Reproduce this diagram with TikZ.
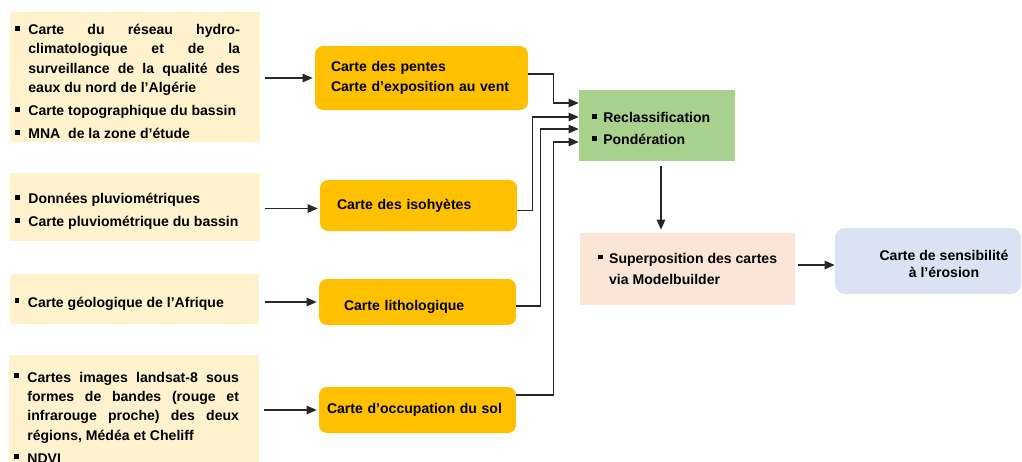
\documentclass[tikz,border=0pt]{standalone}
\usepackage{fontspec}
\setmainfont{Liberation Sans}
\usetikzlibrary{arrows.meta}
\definecolor{inyellow}{HTML}{FFF2CC}
\definecolor{mapgold}{HTML}{FFC000}
\definecolor{procgreen}{HTML}{A9D18E}
\definecolor{overpink}{HTML}{FBE5D6}
\definecolor{resblue}{HTML}{DAE3F3}
\newcommand{\sqbul}{\rule[2.2pt]{2.8pt}{2.8pt}}
\newcommand{\bul}{\sqbul\hspace{0.45em}}
\newcommand{\bitem}[1]{\par\rightskip=0.3cm\hangindent=0.95em\hangafter=1\noindent\makebox[0.95em][l]{\sqbul}#1\par\vspace{2.2pt}}

\begin{document}
\begin{tikzpicture}[
    x=0.02cm, y=-0.02cm,
    font=\fontsize{8}{11}\selectfont\bfseries,
    inbox/.style={
        rectangle, fill=inyellow,
        text width=4.8cm, inner xsep=0.1cm,
        align=justify
    },
    mapbox/.style={
        rectangle, fill=mapgold, rounded corners=0.16cm,
        align=left, text width=3.62cm, inner xsep=0.32cm
    },
    arr/.style={-{Triangle[length=2mm, width=1.7mm]}, line width=0.6pt, black!85}
]
    \useasboundingbox (0,0) rectangle (1022,461);

    \node[inbox, minimum height=2.6cm, inner ysep=0pt, text height=-7pt] (src1) at (135,77) {%
        \bitem{Carte du réseau hydro-\linebreak climatologique et de la\linebreak surveillance de la qualité des\linebreak eaux du nord de l'Algérie}%
        \bitem{Carte topographique du bassin}%
        \bitem{MNA\ \ de la zone d'étude}};
    \node[inbox, minimum height=1.36cm] (src2) at (135,207) {%
        \bitem{Données pluviométriques}%
        \bitem{Carte pluviométrique du bassin}};
    \node[inbox, minimum height=1cm] (src3) at (134.5,299) {%
        \bitem{Carte géologique de l'Afrique}};
    \node[inbox, minimum height=2.32cm, inner ysep=0pt, text height=-3pt] (src4) at (134,413) {%
        \bitem{Cartes images landsat-8 sous\linebreak formes de bandes (rouge et\linebreak infrarouge proche) des deux\linebreak régions, Médéa et Cheliff}%
        \bitem{NDVI}};

    \node[mapbox, minimum height=1.28cm] (map1) at (421.5,78) {Carte des pentes\\Carte d'exposition au vent};
    \node[mapbox, minimum height=1.02cm, text width=3.26cm, inner xsep=0.34cm] (map2) at (418.5,205.5) {Carte des isohyètes};
    \node[mapbox, minimum height=0.92cm, text width=2.94cm, inner xsep=0.5cm] (map3) at (417.5,302) {\rule{0pt}{11pt}Carte lithologique};
    \node[mapbox, minimum height=0.92cm, text width=3.62cm, inner xsep=0.16cm] (map4) at (417.5,410) {Carte d'occupation du sol};

    \node[rectangle, fill=procgreen, minimum height=1.42cm, text width=2.6cm, inner xsep=0.26cm, align=left] (proc) at (657,125.5)
        {\rule{0pt}{9.4pt}\bul Reclassification\\[1.2pt]\bul Pondération};
    \node[rectangle, fill=overpink, minimum width=4.3cm, minimum height=1.44cm, align=left] (over) at (687.5,269)
        {\bul Superposition des cartes\\[1.2pt]\phantom{\bul}via Modelbuilder};
    \node[rectangle, fill=resblue, rounded corners=0.2cm, minimum width=3.72cm, minimum height=1.32cm] (res) at (928,261)
        {\hspace*{0.64cm}\begin{tabular}{@{}c@{}}\rule{0pt}{12pt}Carte de sensibilité\\[-1.2pt]à l'érosion\end{tabular}};

    \draw[arr, shorten <=0.1cm, shorten >=0.04cm] (src1.east |- map1.west) -- (map1.west);
    \draw[arr, shorten <=0.1cm, shorten >=0.04cm] ([yshift=-0.06cm]src2.east |- map2.west) -- ([yshift=-0.06cm]map2.west);
    \draw[arr, shorten <=0.1cm, shorten >=0.04cm] (src3.east |- map3.west) -- (map3.west);
    \draw[arr, shorten <=0.1cm, shorten >=0.04cm] (src4.east |- map4.west) -- (map4.west);

    \draw[arr] ([yshift=0.08cm]map1.east) -- ++(25,0) |- ([yshift=0.45cm]proc.west);
    \draw[arr] ([yshift=-0.1cm]map2.east) -- ++(15,0) |- ([yshift=0.17cm]proc.west);
    \draw[arr] ([yshift=-0.08cm]map3.east) -- ++(24,0) |- ([yshift=-0.07cm]proc.west);
    \draw[arr] ([yshift=0.3cm]map4.east) -- ++(37,0) |- ([yshift=-0.33cm]proc.west);

    \draw[arr, shorten <=0.1cm, shorten >=0.06cm] ([xshift=0.08cm]proc.south) -- ([xshift=0.08cm]proc.south |- over.north);
    \draw[arr, shorten <=0.06cm] ([yshift=0.08cm]over.east) -- ([yshift=0.08cm]over.east -| res.west);
\end{tikzpicture}
\end{document}
